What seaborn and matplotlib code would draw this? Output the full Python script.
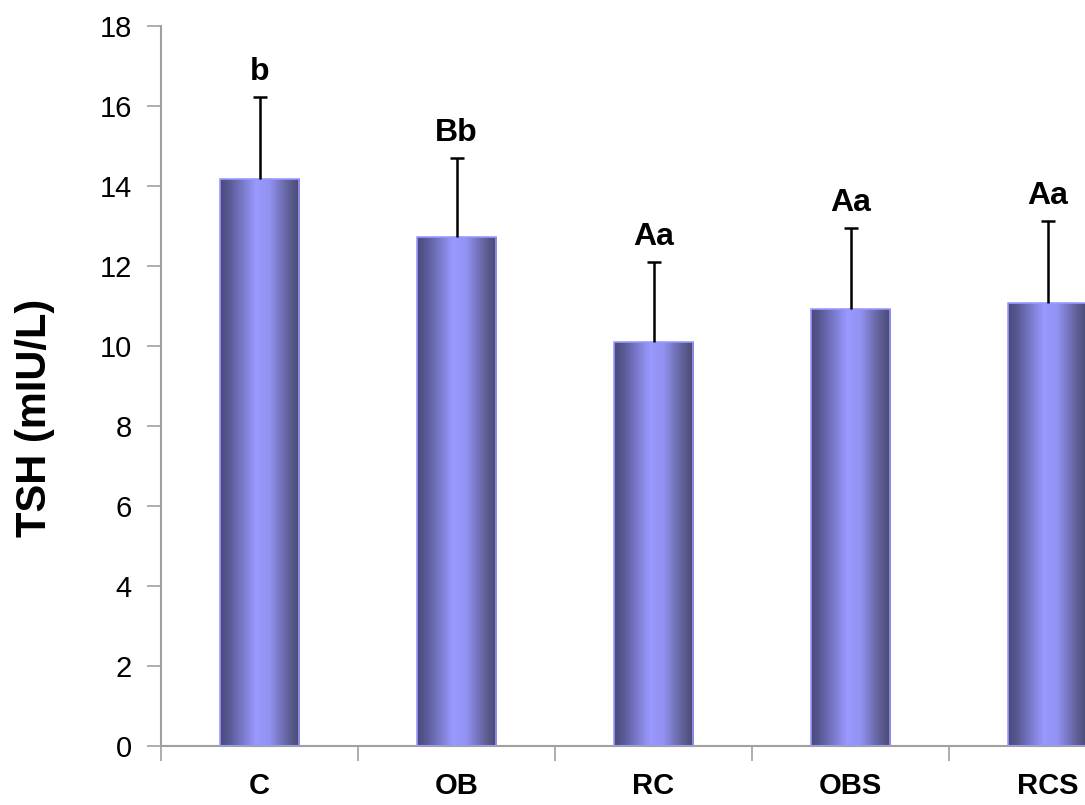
import numpy as np
import matplotlib
matplotlib.use("Agg")
import matplotlib.pyplot as plt
from matplotlib.colors import LinearSegmentedColormap
import seaborn as sns

# ---- data ----
groups = ["C", "OB", "RC", "OBS", "RCS"]
tsh_mean = [14.17, 12.71, 10.09, 10.93, 11.06]
tsh_sd = [2.04, 1.99, 2.00, 2.01, 2.06]
letters = ["b", "Bb", "Aa", "Aa", "Aa"]
y_ticks = [0, 2, 4, 6, 8, 10, 12, 14, 16, 18]

sns.set_theme(style="white")
plt.rcParams["font.family"] = ["Liberation Sans", "DejaVu Sans"]

W, H = 1085, 805
fig = plt.figure(figsize=(W / 100, H / 100), dpi=100)
fig.patch.set_facecolor("white")
ax = fig.add_axes([161 / W, (H - 745.7) / H, 985 / W, 720 / H])
ax.set_facecolor("white")

sns.barplot(x=groups, y=tsh_mean, color="#9999ff", saturation=1, width=0.406,
            edgecolor="#9999ff", linewidth=1.2, ax=ax, zorder=3)

# cylinder-like horizontal gradient inside each bar
cmap = LinearSegmentedColormap.from_list(
    "cyl",
    [(0.0, "#4a4a7c"), (0.12, "#5a5a96"), (0.45, "#9999ff"),
     (0.62, "#9292f2"), (0.85, "#62629c"), (1.0, "#48486f")])
grad = np.linspace(0, 1, 256).reshape(1, -1)
for p in list(ax.patches):
    x0, y0 = p.get_x(), p.get_y()
    w, h = p.get_width(), p.get_height()
    p.set_facecolor("none")
    im = ax.imshow(grad, cmap=cmap, aspect="auto",
                   extent=[x0, x0 + w, y0, y0 + h], zorder=2,
                   interpolation="bicubic")
    im.set_clip_path(p)

# upper-only error bars (stem + top cap)
xpos = np.arange(len(groups))
tops = np.array(tsh_mean) + np.array(tsh_sd)
ax.errorbar(xpos, tsh_mean, yerr=[np.zeros(len(groups)), tsh_sd], fmt="none",
            ecolor="black", elinewidth=1.8, capsize=0, zorder=4)
ax.plot(xpos, tops, linestyle="none", marker="_", markersize=9.5,
        markeredgewidth=1.8, color="black", zorder=4)

# significance letters
for i, (t_, lab) in enumerate(zip(tops, letters)):
    ax.text(i, t_ + 0.42, lab, ha="center", va="baseline",
            fontsize=23, fontweight="bold", color="black", zorder=5)

ax.set_xlim(-0.5, len(groups) - 0.5)
ax.set_ylim(0, 18)
ax.set_yticks(y_ticks)
ax.set_yticklabels([str(v) for v in y_ticks], fontsize=21, color="black")
ax.set_xticks(xpos)
ax.set_xticklabels(groups, fontsize=21, fontweight="bold", color="black")
ax.set_xticks(np.arange(len(groups) + 1) - 0.5, minor=True)

ax.tick_params(axis="y", which="major", direction="out", length=10,
               width=1.2, color="#a0a0a0", pad=11, left=True)
ax.tick_params(axis="x", which="major", length=0, pad=19, bottom=True)
ax.tick_params(axis="x", which="minor", direction="out", length=11,
               width=1.2, color="#a0a0a0", bottom=True)

for side in ["top", "right"]:
    ax.spines[side].set_visible(False)
for side in ["left", "bottom"]:
    ax.spines[side].set_color("#a0a0a0")
    ax.spines[side].set_linewidth(1.5)

ax.set_xlabel("")
ax.set_ylabel("TSH (mIU/L)", fontsize=30, fontweight="bold", color="black")
ax.yaxis.set_label_coords(-0.108, 0.455)
ax.grid(False)

fig.savefig("out.png", dpi=100, facecolor="white")
